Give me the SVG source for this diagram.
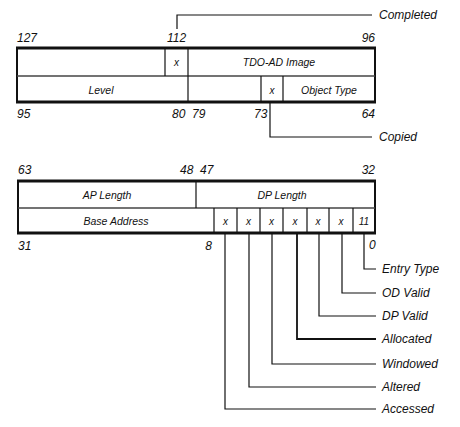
<svg xmlns="http://www.w3.org/2000/svg" width="460" height="427" viewBox="0 0 460 427">
<style>
text{font-family:"Liberation Sans",Arial,sans-serif;font-style:italic;fill:#111}
.n{font-size:12px}
.f{font-size:10.5px;text-anchor:middle}
.x{font-size:10px;text-anchor:middle}
.l{font-size:12px}
.box{fill:#fff;stroke:#111;stroke-width:2}
.hb{stroke:#111;stroke-width:3}
.d{stroke:#111;stroke-width:1.2;fill:none}
.m{stroke:#444;stroke-width:1.6}
.c{stroke:#111;stroke-width:1.2;fill:none}
</style>
<g id="reg1">
<rect class="box" x="17" y="48" width="358" height="54"/>
<line class="hb" x1="16" y1="48" x2="376" y2="48"/>
<line class="hb" x1="16" y1="102" x2="376" y2="102"/>
<line class="m" x1="17" y1="76" x2="375" y2="76"/>
<line class="d" x1="165" y1="48" x2="165" y2="76"/>
<line class="d" x1="188" y1="48" x2="188" y2="102"/>
<line class="d" x1="261" y1="76" x2="261" y2="102"/>
<line class="d" x1="283" y1="76" x2="283" y2="102"/>
<text class="x" x="176.5" y="66">x</text>
<text class="f" x="279" y="66">TDO-AD Image</text>
<text class="f" x="101" y="94">Level</text>
<text class="x" x="272" y="94">x</text>
<text class="f" x="329" y="94">Object Type</text>
<text class="n" x="17" y="42">127</text>
<text class="n" x="167" y="42">112</text>
<text class="n" x="375" y="42" text-anchor="end">96</text>
<text class="n" x="17" y="118">95</text>
<text class="n" x="172" y="118">80</text>
<text class="n" x="192" y="118">79</text>
<text class="n" x="254" y="118">73</text>
<text class="n" x="375" y="118" text-anchor="end">64</text>
</g>
<g id="reg2">
<rect class="box" x="18" y="181" width="357" height="52"/>
<line class="hb" x1="17" y1="181" x2="376" y2="181"/>
<line class="hb" x1="17" y1="233" x2="376" y2="233"/>
<line class="m" x1="18" y1="208" x2="375" y2="208"/>
<line class="d" x1="196" y1="181" x2="196" y2="208"/>
<line class="d" x1="214" y1="208" x2="214" y2="233"/>
<line class="d" x1="237" y1="208" x2="237" y2="233"/>
<line class="d" x1="260" y1="208" x2="260" y2="233"/>
<line class="d" x1="283" y1="208" x2="283" y2="233"/>
<line class="d" x1="307" y1="208" x2="307" y2="233"/>
<line class="d" x1="329" y1="208" x2="329" y2="233"/>
<line class="d" x1="353" y1="208" x2="353" y2="233"/>
<text class="f" x="107" y="199">AP Length</text>
<text class="f" x="282" y="199">DP Length</text>
<text class="f" x="116" y="225">Base Address</text>
<text class="x" x="225.5" y="225">x</text>
<text class="x" x="248.5" y="225">x</text>
<text class="x" x="271.5" y="225">x</text>
<text class="x" x="295" y="225">x</text>
<text class="x" x="318" y="225">x</text>
<text class="x" x="341" y="225">x</text>
<text class="x" x="364" y="225">11</text>
<text class="n" x="18" y="174">63</text>
<text class="n" x="180" y="174">48</text>
<text class="n" x="200" y="174">47</text>
<text class="n" x="375" y="174" text-anchor="end">32</text>
<text class="n" x="18" y="250">31</text>
<text class="n" x="212" y="250" text-anchor="end">8</text>
<text class="n" x="369" y="249">0</text>
</g>
<g id="connectors">
<polyline class="c" points="177,29 177,15 372,15"/>
<polyline class="c" points="270,102 270,137 372,137"/>
<polyline class="c" points="364,233 364,269 376,269"/>
<polyline class="c" points="342,233 342,293 376,293"/>
<polyline class="c" points="319,233 319,316 376,316"/>
<polyline class="c" points="297,233 297,339 376,339" style="stroke-width:1.8"/>
<polyline class="c" points="272,233 272,364 376,364"/>
<polyline class="c" points="249,233 249,387 376,387"/>
<polyline class="c" points="225,233 225,409 376,409"/>
</g>
<g id="labels">
<text class="l" x="379" y="19">Completed</text>
<text class="l" x="379" y="141">Copied</text>
<text class="l" x="382" y="273">Entry Type</text>
<text class="l" x="382" y="297">OD Valid</text>
<text class="l" x="382" y="320">DP Valid</text>
<text class="l" x="382" y="343">Allocated</text>
<text class="l" x="382" y="368">Windowed</text>
<text class="l" x="382" y="391">Altered</text>
<text class="l" x="382" y="413">Accessed</text>
</g>
</svg>
